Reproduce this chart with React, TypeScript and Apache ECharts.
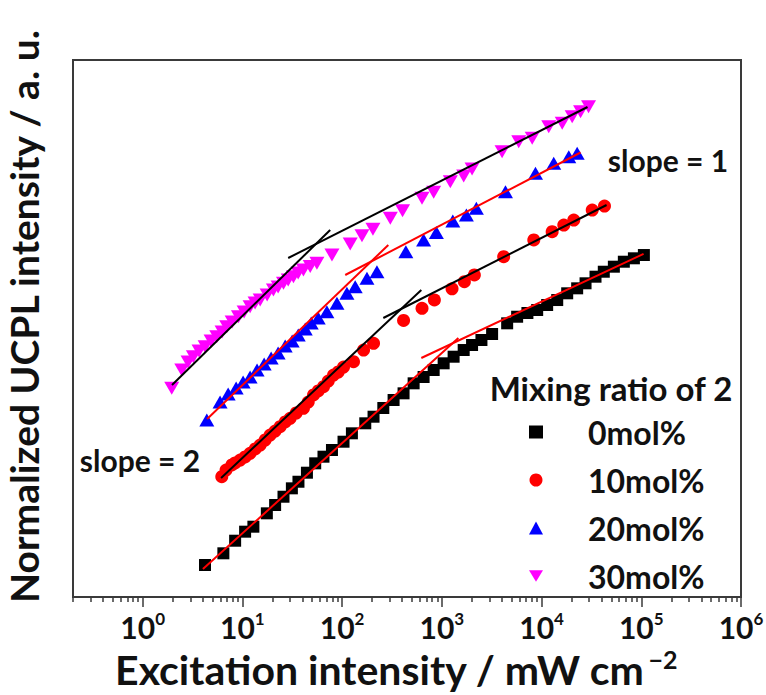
import { useEffect, useRef } from 'react';
import * as echarts from 'echarts';

const TITLE_FONT = 'Lato, "Noto Sans", sans-serif';
const INK = '#111111';
const FRAME = '#3a3a3a';

// Both axes are in decades: x = log10(excitation intensity / mW cm^-2),
// y = log10(normalized UCPL intensity, a. u.; the four curves are offset for clarity).
const logPower0 = [0.625, 0.809, 0.927, 1.027, 1.110, 1.245, 1.328, 1.412, 1.496, 1.562, 1.647, 1.730, 1.813, 1.898, 2.014, 2.098, 2.232, 2.315, 2.413, 2.516, 2.616, 2.717, 2.817, 2.918, 3.018, 3.118, 3.219, 3.303, 3.397, 3.504, 3.655, 3.755, 3.858, 3.956, 4.056, 4.157, 4.257, 4.357, 4.441, 4.541, 4.624, 4.725, 4.825, 4.926, 5.026];
const logUcpl0 = [0.655, 0.895, 1.153, 1.338, 1.440, 1.714, 1.884, 2.054, 2.226, 2.361, 2.546, 2.738, 2.874, 3.011, 3.181, 3.353, 3.558, 3.693, 3.871, 4.035, 4.172, 4.377, 4.506, 4.650, 4.787, 4.922, 5.059, 5.162, 5.264, 5.387, 5.606, 5.741, 5.817, 5.879, 5.981, 6.083, 6.221, 6.323, 6.426, 6.561, 6.663, 6.766, 6.868, 6.938, 7.005];

const logPower10 = [0.793, 0.836, 0.894, 0.927, 0.977, 1.027, 1.077, 1.128, 1.178, 1.228, 1.278, 1.328, 1.378, 1.429, 1.479, 1.539, 1.612, 1.660, 1.713, 1.760, 1.813, 1.861, 1.914, 1.961, 2.014, 2.114, 2.215, 2.315, 2.616, 2.801, 2.925, 3.102, 3.226, 3.326, 3.620, 3.922, 4.106, 4.223, 4.323, 4.508, 4.631];
const logUcpl10 = [2.464, 2.601, 2.704, 2.745, 2.806, 2.868, 2.943, 3.032, 3.113, 3.216, 3.318, 3.400, 3.488, 3.585, 3.660, 3.769, 3.865, 3.994, 4.138, 4.220, 4.308, 4.424, 4.547, 4.609, 4.711, 4.820, 5.059, 5.197, 5.664, 5.914, 6.084, 6.313, 6.458, 6.596, 6.970, 7.313, 7.483, 7.620, 7.722, 7.927, 8.009];

const logPower20 = [0.643, 0.776, 0.857, 0.937, 1.007, 1.077, 1.147, 1.218, 1.288, 1.358, 1.429, 1.499, 1.560, 1.630, 1.690, 1.760, 1.847, 1.948, 2.048, 2.131, 2.249, 2.349, 2.639, 2.817, 2.945, 3.110, 3.246, 3.346, 3.638, 3.939, 4.122, 4.273, 4.357];
const logUcpl20 = [3.626, 3.994, 4.158, 4.281, 4.404, 4.506, 4.650, 4.773, 4.896, 4.998, 5.141, 5.244, 5.367, 5.490, 5.613, 5.715, 5.844, 6.016, 6.221, 6.356, 6.528, 6.663, 7.073, 7.313, 7.466, 7.702, 7.825, 7.962, 8.302, 8.679, 8.884, 9.019, 9.089];

const logPower30 = [0.291, 0.392, 0.455, 0.508, 0.565, 0.626, 0.686, 0.743, 0.796, 0.843, 0.897, 0.960, 1.017, 1.077, 1.127, 1.178, 1.248, 1.311, 1.358, 1.412, 1.459, 1.512, 1.559, 1.612, 1.680, 1.747, 1.898, 2.081, 2.199, 2.309, 2.483, 2.606, 2.801, 2.918, 3.085, 3.219, 3.303, 3.604, 3.771, 3.906, 4.072, 4.207, 4.307, 4.391, 4.471];
const logUcpl30 = [4.275, 4.650, 4.814, 4.922, 5.039, 5.127, 5.244, 5.332, 5.428, 5.537, 5.633, 5.741, 5.838, 5.946, 6.022, 6.083, 6.186, 6.288, 6.350, 6.426, 6.493, 6.561, 6.637, 6.698, 6.770, 6.835, 7.005, 7.231, 7.401, 7.532, 7.757, 7.913, 8.167, 8.290, 8.507, 8.624, 8.767, 9.121, 9.326, 9.396, 9.633, 9.703, 9.838, 9.941, 10.043];

// Linear fits in log-log space: low-power (slope ≈ 2) and high-power (slope ≈ 1) regimes, [x, y] end points.
const fitLow0 = [[0.604, 0.574], [3.166, 5.305]];
const fitHigh0 = [[2.794, 4.896], [5.023, 7.027]];
const fitLow10 = [[0.786, 2.438], [2.794, 6.288]];
const fitHigh10 = [[2.413, 5.715], [4.652, 8.030]];
const fitLow20 = [[0.646, 3.646], [2.463, 7.210]];
const fitHigh20 = [[2.031, 6.596], [4.391, 9.105]];
const fitLow30 = [[0.294, 4.343], [1.880, 7.518]];
const fitHigh30 = [[1.459, 6.944], [4.461, 10.037]];

const seriesNames = ['0mol%', '10mol%', '20mol%', '30mol%'];
const majorDecades = [0, 1, 2, 3, 4, 5, 6];

const X_MIN = -1 + Math.log10(2); // 0.2 mW cm^-2
const X_MAX = 6;
const Y_MIN = 0;
const Y_MAX = 11;

// minor ticks at 2..9 × 10^d
const minorTicks: number[] = [];
for (let d = -1; d < 6; d++) {
  for (let k = 2; k <= 9; k++) {
    minorTicks.push(d + Math.log10(k));
  }
}

const DOWN_TRIANGLE = 'path://M0,0L12,0L6,10Z';

const zip = (xs: number[], ys: number[]) => xs.map((x, i) => [x, ys[i]]);

function fitLine(name: string, data: number[][], color: string) {
  return {
    type: 'line',
    name,
    data,
    symbol: 'none',
    silent: true,
    z: 4,
    lineStyle: { color, width: 2 },
  };
}

export default function App() {
  const ref = useRef<HTMLDivElement>(null);

  useEffect(() => {
    if (!ref.current) return;
    const chart = echarts.init(ref.current, null, { renderer: 'svg' });

    const option = {
      animation: false,
      backgroundColor: '#ffffff',
      grid: {
        left: 73,
        right: 25,
        top: 60,
        bottom: 98,
        show: true,
        borderColor: FRAME,
        borderWidth: 2,
        backgroundColor: 'transparent',
        outerBoundsMode: 'none',
      },
      legend: {
        data: seriesNames,
        orient: 'vertical',
        left: 524,
        top: 411,
        itemWidth: 14,
        itemHeight: 13,
        itemGap: 16,
        selectedMode: false,
        textStyle: {
          fontFamily: TITLE_FONT,
          fontWeight: 'bold',
          fontSize: 32,
          lineHeight: 30,
          color: INK,
          padding: [0, 0, 0, 40],
        },
      },
      xAxis: [
        {
          type: 'value',
          min: X_MIN,
          max: X_MAX,
          position: 'bottom',
          splitLine: { show: false },
          axisLine: { show: true, onZero: false, lineStyle: { color: FRAME, width: 2 } },
          axisTick: {
            show: true,
            customValues: majorDecades,
            length: 10,
            lineStyle: { color: FRAME, width: 1.5 },
          },
          axisLabel: {
            customValues: majorDecades,
            margin: 13,
            formatter: (v: number) => `{b|10}{s|${Math.round(v)}}`,
            rich: {
              b: { fontFamily: TITLE_FONT, fontWeight: 'bold', fontSize: 30, color: INK },
              s: { fontFamily: TITLE_FONT, fontWeight: 'bold', fontSize: 17, color: INK, padding: [0, 0, 16, 0] },
            },
          },
          name: '{t|Excitation intensity / mW cm}{s|−2}',
          nameLocation: 'middle',
          nameGap: 48,
          nameTextStyle: {
            padding: [0, 22, 0, 0],
            rich: {
              t: { fontFamily: TITLE_FONT, fontWeight: 'bold', fontSize: 41, color: INK },
              s: { fontFamily: TITLE_FONT, fontWeight: 'bold', fontSize: 25, color: INK, padding: [0, 0, 22, 4] },
            },
          },
        },
        {
          type: 'value',
          min: X_MIN,
          max: X_MAX,
          position: 'bottom',
          splitLine: { show: false },
          axisLine: { show: false },
          axisLabel: { show: false },
          axisTick: {
            show: true,
            customValues: minorTicks,
            length: 5,
            lineStyle: { color: FRAME, width: 1.5 },
          },
        },
      ],
      yAxis: {
        type: 'value',
        min: Y_MIN,
        max: Y_MAX,
        axisLine: { show: false },
        axisTick: { show: false },
        axisLabel: { show: false },
        splitLine: { show: false },
        name: 'Normalized UCPL intensity / a. u.',
        nameLocation: 'middle',
        nameRotate: 90,
        nameGap: 30,
        nameTextStyle: {
          fontFamily: TITLE_FONT,
          fontWeight: 'bold',
          fontSize: 39,
          color: INK,
          padding: [0, 0, 0, 24],
        },
      },
      graphic: [
        {
          type: 'text',
          x: 611,
          y: 388,
          style: {
            text: 'Mixing ratio of 2',
            align: 'center',
            verticalAlign: 'middle',
            fontFamily: TITLE_FONT,
            fontWeight: 'bold',
            fontSize: 33,
            fill: INK,
          },
        },
        {
          type: 'text',
          x: 668,
          y: 160,
          style: {
            text: 'slope = 1',
            align: 'center',
            verticalAlign: 'middle',
            fontFamily: TITLE_FONT,
            fontWeight: 'bold',
            fontSize: 30,
            fill: INK,
          },
        },
        {
          type: 'text',
          x: 140,
          y: 460,
          style: {
            text: 'slope = 2',
            align: 'center',
            verticalAlign: 'middle',
            fontFamily: TITLE_FONT,
            fontWeight: 'bold',
            fontSize: 30,
            fill: INK,
          },
        },
      ],
      series: [
        {
          type: 'scatter',
          name: seriesNames[0],
          data: zip(logPower0, logUcpl0),
          symbol: 'rect',
          symbolSize: 12,
          itemStyle: { color: '#000000', opacity: 1 },
          z: 2,
        },
        {
          type: 'scatter',
          name: seriesNames[1],
          data: zip(logPower10, logUcpl10),
          symbol: 'circle',
          symbolSize: 13,
          itemStyle: { color: '#ff0000', opacity: 1 },
          z: 2,
        },
        {
          type: 'scatter',
          name: seriesNames[2],
          data: zip(logPower20, logUcpl20),
          symbol: 'triangle',
          symbolSize: [15, 13],
          itemStyle: { color: '#0000ff', opacity: 1 },
          z: 2,
        },
        {
          type: 'scatter',
          name: seriesNames[3],
          data: zip(logPower30, logUcpl30),
          symbol: DOWN_TRIANGLE,
          symbolSize: [15, 13],
          itemStyle: { color: '#ff00ff', opacity: 1 },
          z: 2,
        },
        fitLine('fit 0mol% low', fitLow0, '#ff0000'),
        fitLine('fit 0mol% high', fitHigh0, '#ff0000'),
        fitLine('fit 10mol% low', fitLow10, '#000000'),
        fitLine('fit 10mol% high', fitHigh10, '#000000'),
        fitLine('fit 20mol% low', fitLow20, '#ff0000'),
        fitLine('fit 20mol% high', fitHigh20, '#ff0000'),
        fitLine('fit 30mol% low', fitLow30, '#000000'),
        fitLine('fit 30mol% high', fitHigh30, '#000000'),
      ],
    };

    chart.setOption(option as any);
    return () => chart.dispose();
  }, []);

  return (
    <div
      ref={ref}
      style={{ position: 'fixed', left: 0, top: 0, width: 766, height: 695, background: '#fff' }}
    />
  );
}
